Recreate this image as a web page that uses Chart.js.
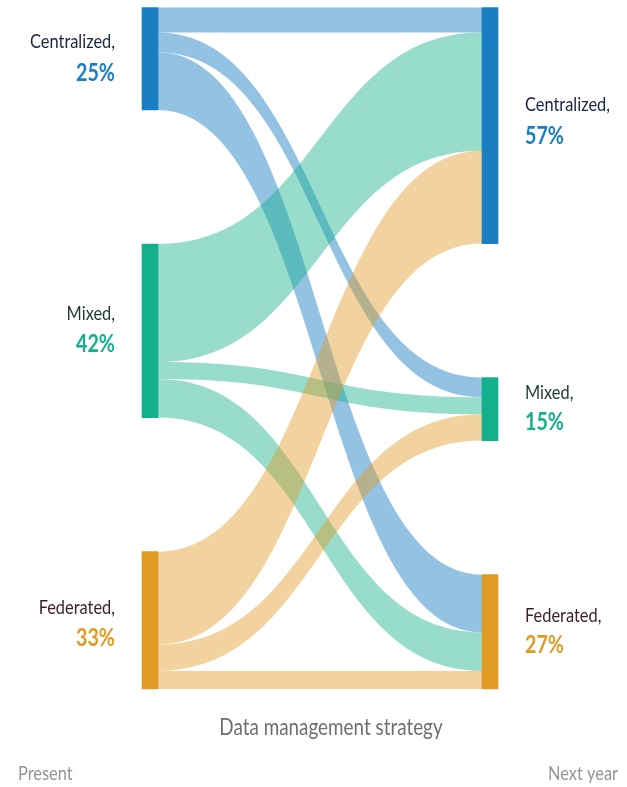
<!DOCTYPE html>
<html>
<head>
<meta charset="utf-8">
<script src="https://cdn.jsdelivr.net/npm/chart.js@4/dist/chart.umd.min.js"></script>
<style>
  html, body { margin: 0; padding: 0; background: #ffffff; }
  #wrap { width: 627px; height: 787px; position: relative; }
</style>
</head>
<body>
<div id="wrap"><canvas id="c" width="627" height="787"></canvas></div>
<script>
// ---- data ----
const nodeNames = ['Centralized', 'Mixed', 'Federated'];
const presentShares = ['25%', '42%', '33%'];
const nextYearShares = ['57%', '15%', '27%'];
// flows from each present strategy to [Centralized, Mixed, Federated] next year
const fromCentralized = [6.1, 4.8, 14.0];
const fromMixed = [28.7, 4.1, 9.4];
const fromFederated = [22.6, 6.4, 4.4];
const columnLabels = ['Present', 'Next year'];
const axisTitle = 'Data management strategy';

// ---- styles ----
const nodeColors = ['#1a7ec3', '#14b08b', '#e19b24'];
const flowColors = ['rgba(26,126,195,0.47)', 'rgba(20,176,139,0.44)', 'rgba(225,155,36,0.44)'];
const nameColors = ['#1c2541', '#1d3a2d', '#3b1f24'];
const FONT = "Lato, 'Liberation Sans', sans-serif";
const SX = 0.82;         // horizontal compression to mimic a condensed face
const GAP = 32.6;        // vertical space between nodes, in value units
const NODE_W = 16;
const labelOffsets = {   // [name baseline, share baseline] relative to node centre
  left: [[-11, 22], [-11, 21], [-6, 26]],
  right: [[-15, 18], [-10, 21], [-10, 21]]
};

// ---- layout of nodes from data ----
const flows = [fromCentralized, fromMixed, fromFederated];
const leftSize = flows.map(r => r.reduce((a, b) => a + b, 0));
const rightSize = nodeNames.map((_, j) => flows.reduce((a, r) => a + r[j], 0));
function stackStarts(sizes) {
  const s = []; let acc = 0;
  sizes.forEach(v => { s.push(acc); acc += v + GAP; });
  return s;
}
const leftStart = stackStarts(leftSize);
const rightStart = stackStarts(rightSize);
const total = leftSize.reduce((a, b) => a + b, 0) + GAP * (nodeNames.length - 1);

const datasets = nodeNames.map((n, k) => ({
  label: n,
  data: [
    { x: 0, y: [leftStart[k], leftStart[k] + leftSize[k]] },
    { x: 1, y: [rightStart[k], rightStart[k] + rightSize[k]] }
  ],
  backgroundColor: nodeColors[k],
  borderWidth: 0,
  borderSkipped: false,
  barThickness: NODE_W,
  grouped: false,
  clip: false
}));

function drawText(ctx, str, x, y, font, color, align) {
  ctx.save();
  ctx.translate(x, y);
  ctx.scale(SX, 1);
  ctx.font = font;
  ctx.fillStyle = color;
  ctx.textAlign = align;
  ctx.textBaseline = 'alphabetic';
  ctx.fillText(str, 0, 0);
  ctx.restore();
}

const sankeyPlugin = {
  id: 'sankeyFlows',
  beforeDatasetsDraw(chart) {
    const { ctx, scales: { x, y } } = chart;
    const x0 = x.getPixelForValue(0) + NODE_W / 2;
    const x1 = x.getPixelForValue(1) - NODE_W / 2;
    const xm = (x0 + x1) / 2;
    ctx.save();
    const srcOff = leftStart.slice();
    const tgtOff = rightStart.slice();
    for (let i = 0; i < flows.length; i++) {
      for (let j = 0; j < flows[i].length; j++) {
        const v = flows[i][j];
        const s0 = y.getPixelForValue(srcOff[i]);
        const s1 = y.getPixelForValue(srcOff[i] + v);
        const t0 = y.getPixelForValue(tgtOff[j]);
        const t1 = y.getPixelForValue(tgtOff[j] + v);
        srcOff[i] += v;
        tgtOff[j] += v;
        ctx.beginPath();
        ctx.moveTo(x0, s0);
        ctx.bezierCurveTo(xm, s0, xm, t0, x1, t0);
        ctx.lineTo(x1, t1);
        ctx.bezierCurveTo(xm, t1, xm, s1, x0, s1);
        ctx.closePath();
        ctx.fillStyle = flowColors[i];
        ctx.fill();
      }
    }
    ctx.restore();
  },
  afterDraw(chart) {
    const { ctx, scales: { x, y } } = chart;
    const lx = x.getPixelForValue(0) - NODE_W / 2 - 27;
    const rx = x.getPixelForValue(1) + NODE_W / 2 + 27;
    nodeNames.forEach((n, k) => {
      const cl = y.getPixelForValue(leftStart[k] + leftSize[k] / 2);
      drawText(ctx, n + ',', lx, cl + labelOffsets.left[k][0], '20px ' + FONT, nameColors[k], 'right');
      drawText(ctx, presentShares[k], lx, cl + labelOffsets.left[k][1], 'bold 24px ' + FONT, nodeColors[k], 'right');
      const cr = y.getPixelForValue(rightStart[k] + rightSize[k] / 2);
      drawText(ctx, n + ',', rx, cr + labelOffsets.right[k][0], '20px ' + FONT, nameColors[k], 'left');
      drawText(ctx, nextYearShares[k], rx, cr + labelOffsets.right[k][1], 'bold 24px ' + FONT, nodeColors[k], 'left');
    });
    const cx = (x.getPixelForValue(0) + x.getPixelForValue(1)) / 2 + 11;
    drawText(ctx, axisTitle, cx, 735, '23px ' + FONT, '#6d6e71', 'center');
    drawText(ctx, columnLabels[0], 18, 780, '20px ' + FONT, '#939598', 'left');
    drawText(ctx, columnLabels[1], 618, 780, '20px ' + FONT, '#939598', 'right');
  }
};

new Chart(document.getElementById('c'), {
  type: 'bar',
  data: { datasets },
  options: {
    responsive: false,
    animation: false,
    events: [],
    layout: { padding: { left: 150, right: 137, top: 7.5, bottom: 98 } },
    plugins: { legend: { display: false }, tooltip: { enabled: false } },
    scales: {
      x: { type: 'linear', min: 0, max: 1, offset: false, display: false },
      y: { type: 'linear', min: 0, max: total, reverse: true, display: false }
    }
  },
  plugins: [sankeyPlugin]
});
</script>
</body>
</html>
